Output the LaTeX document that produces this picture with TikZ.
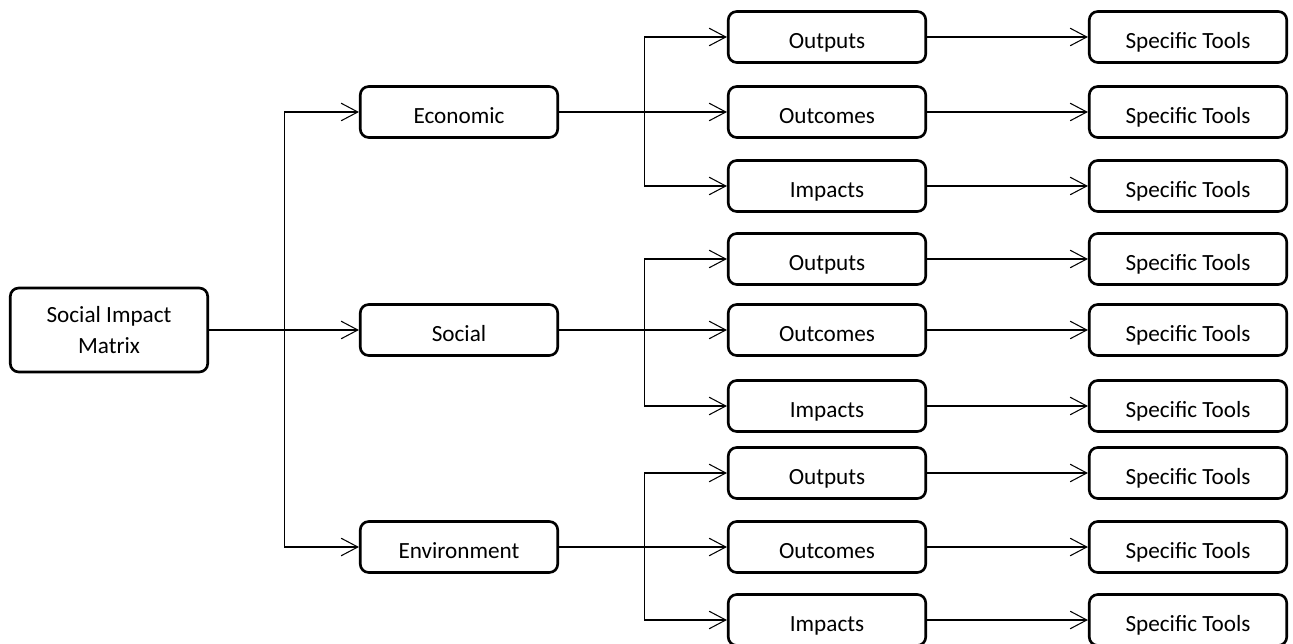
\documentclass[tikz,border=0pt]{standalone}
\usepackage{fontspec}
\setmainfont{Carlito}
\usetikzlibrary{arrows.meta}

\begin{document}
\begin{tikzpicture}[x=0.02cm,y=-0.02cm,
  box/.style={draw,line width=1.5pt,rounded corners=0.17cm,minimum width=3.95cm,minimum height=1.02cm,inner sep=0pt,align=center,text height=12.6pt,text depth=0pt,font=\fontsize{13.2}{17.6}\selectfont},
  link/.style={line width=0.6pt,-{Straight Barb[length=9.5pt,width=10pt,line width=0.6pt]}}]
\useasboundingbox (0,0) rectangle (1293,644);
\node[box,minimum height=1.68cm,text height={},text depth={}] (root) at (109,330) {Social Impact\\Matrix};
\foreach \cat/\txt/\y in {eco/Economic/112,soc/Social/330,env/Environment/547}{
  \node[box] (\cat) at (459,\y) {\txt};
  \draw[link] (root.east) -- ++(75,0) |- (\cat.west);
}
\foreach \cat/\ya/\yb/\yc in {eco/37/112/186,soc/259/330/406,env/473/547/620}{
  \foreach \sub/\txt/\y in {out/Outputs/\ya,oc/Outcomes/\yb,imp/Impacts/\yc}{
    \node[box] (\cat-\sub) at (827,\y) {\txt};
    \node[box] (\cat-\sub-tool) at (1188,\y) {Specific Tools};
    \draw[link] (\cat.east) -- ++(85,0) |- (\cat-\sub.west);
    \draw[link] (\cat-\sub.east) -- (\cat-\sub-tool.west);
  }
}
\end{tikzpicture}
\end{document}
